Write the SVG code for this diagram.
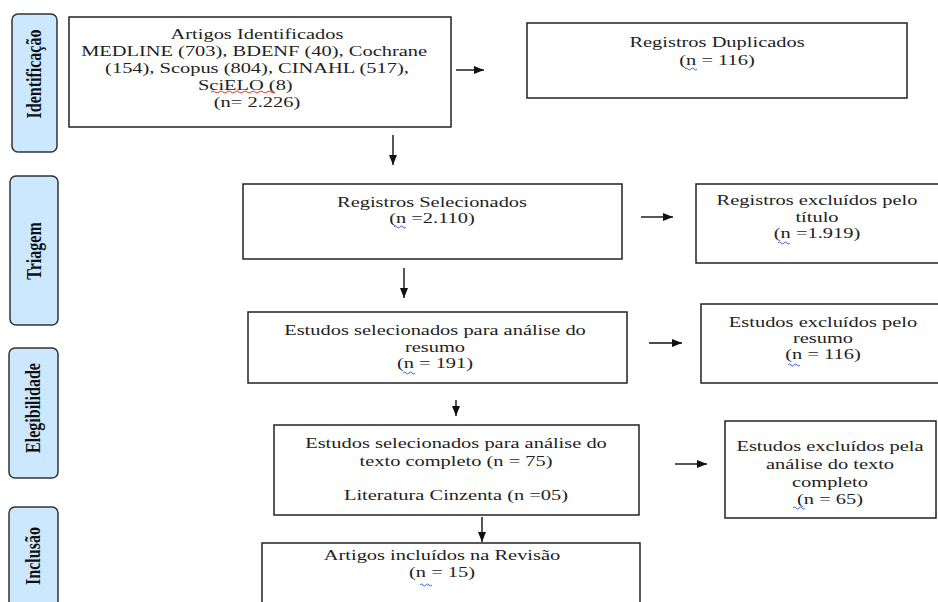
<svg xmlns="http://www.w3.org/2000/svg" width="938" height="602" viewBox="0 0 938 602">
<defs>
<style>
.bg{fill:#ffffff}
.box{fill:#ffffff;stroke:#222;stroke-width:1.5}
.side{fill:#cce8ff;stroke:#333;stroke-width:1.5}
.t{font-family:"Liberation Serif","Tinos","DejaVu Serif","Noto Serif",serif;font-size:14px;fill:#222;text-anchor:middle}
.st{font-family:"Liberation Serif","Tinos","DejaVu Serif","Noto Serif",serif;font-size:16px;font-weight:bold;fill:#111;text-anchor:middle}
.conn{stroke:#111;stroke-width:1.4;fill:none}
.sp{fill:none;stroke:#2a52d6;stroke-width:0.9}
.spr{fill:none;stroke:#e0201c;stroke-width:0.9}
</style>
<marker id="ah" markerWidth="10" markerHeight="8" refX="10" refY="4" orient="auto" markerUnits="userSpaceOnUse">
<path d="M0,0 L10,4 L0,8 z" fill="#111"/>
</marker>
</defs>
<rect class="bg" x="0" y="0" width="938" height="602"/>

<g id="side-identificacao">
<rect class="side" x="12" y="14" width="45" height="138" rx="6"/>
<text class="st" font-family="Liberation Serif, DejaVu Serif, serif" transform="translate(34,74) scale(1.35,1) rotate(-90)" x="0" y="5">Identificação</text>
</g>
<g id="side-triagem">
<rect class="side" x="10" y="176" width="48" height="149" rx="6"/>
<text class="st" font-family="Liberation Serif, DejaVu Serif, serif" transform="translate(34,251) scale(1.35,1) rotate(-90)" x="0" y="5">Triagem</text>
</g>
<g id="side-elegibilidade">
<rect class="side" x="9" y="348" width="49" height="130" rx="6"/>
<text class="st" font-family="Liberation Serif, DejaVu Serif, serif" transform="translate(33,408) scale(1.35,1) rotate(-90)" x="0" y="5">Elegibilidade</text>
</g>
<g id="side-inclusao">
<rect class="side" x="9" y="507" width="49" height="110" rx="6"/>
<text class="st" font-family="Liberation Serif, DejaVu Serif, serif" transform="translate(33,556) scale(1.35,1) rotate(-90)" x="0" y="5">Inclusão</text>
</g>

<g id="connectors">
<line class="conn" x1="456" y1="70" x2="484" y2="70" marker-end="url(#ah)"/>
<line class="conn" x1="393" y1="135" x2="393" y2="165" marker-end="url(#ah)"/>
<line class="conn" x1="641" y1="217" x2="673" y2="217" marker-end="url(#ah)"/>
<line class="conn" x1="404" y1="268" x2="404" y2="298" marker-end="url(#ah)"/>
<line class="conn" x1="649" y1="343" x2="682" y2="343" marker-end="url(#ah)"/>
<line class="conn" x1="456" y1="400" x2="456" y2="416" marker-end="url(#ah)"/>
<line class="conn" x1="675" y1="464" x2="707" y2="464" marker-end="url(#ah)"/>
<line class="conn" x1="482" y1="517" x2="482" y2="542" marker-end="url(#ah)"/>
</g>

<g id="n-identificados">
<rect class="box" x="69" y="17" width="382" height="110"/>
<g transform="translate(257,0) scale(1.46,1)">
<text class="t" font-family="Liberation Serif, DejaVu Serif, serif"><tspan x="0" y="39">Artigos Identificados</tspan><tspan x="-2" y="56">MEDLINE (703), BDENF (40), Cochrane</tspan><tspan x="0" y="73">(154), Scopus (804), CINAHL (517),</tspan><tspan x="-8" y="90">SciELO (8)</tspan><tspan x="0" y="107">(n= 2.226)</tspan></text>
</g>
<path class="spr" d="M211,92 q2,-2 4,0 t4,0 t4,0 t4,0 t4,0 t4,0 t4,0 t4,0 t4,0 t4,0 t4,0 t4,0 t4,0 t4,0 t4,0 t4,0"/>
</g>

<g id="n-duplicados">
<rect class="box" x="527" y="23" width="380" height="75"/>
<g transform="translate(717,0) scale(1.46,1)">
<text class="t" font-family="Liberation Serif, DejaVu Serif, serif"><tspan x="0" y="47">Registros Duplicados</tspan><tspan x="0" y="65">(n = 116)</tspan></text>
</g>
<path class="sp" d="M685,69 q1.5,-2 3,0 t3,0 t3,0 t3,0"/>
</g>

<g id="n-selecionados">
<rect class="box" x="243" y="184" width="379" height="75"/>
<g transform="translate(432,0) scale(1.46,1)">
<text class="t" font-family="Liberation Serif, DejaVu Serif, serif"><tspan x="0" y="207">Registros Selecionados</tspan><tspan x="0" y="223">(n =2.110)</tspan></text>
</g>
<path class="sp" d="M394,227 q1.5,-2 3,0 t3,0 t3,0 t3,0"/>
</g>

<g id="n-excl-titulo">
<rect class="box" x="696" y="184" width="245" height="79"/>
<g transform="translate(817,0) scale(1.46,1)">
<text class="t" font-family="Liberation Serif, DejaVu Serif, serif"><tspan x="0" y="205">Registros excluídos pelo</tspan><tspan x="0" y="222">título</tspan><tspan x="0" y="238">(n =1.919)</tspan></text>
</g>
<path class="sp" d="M778,243 q1.5,-2 3,0 t3,0 t3,0 t3,0"/>
</g>

<g id="n-resumo">
<rect class="box" x="248" y="312" width="379" height="71"/>
<g transform="translate(435,0) scale(1.46,1)">
<text class="t" font-family="Liberation Serif, DejaVu Serif, serif"><tspan x="0" y="335">Estudos selecionados para análise do</tspan><tspan x="0" y="352">resumo</tspan><tspan x="0" y="368">(n = 191)</tspan></text>
</g>
<path class="sp" d="M403,373 q1.5,-2 3,0 t3,0 t3,0 t3,0"/>
</g>

<g id="n-excl-resumo">
<rect class="box" x="701" y="304" width="245" height="79"/>
<g transform="translate(823,0) scale(1.46,1)">
<text class="t" font-family="Liberation Serif, DejaVu Serif, serif"><tspan x="0" y="327">Estudos excluídos pelo</tspan><tspan x="0" y="343">resumo</tspan><tspan x="0" y="359">(n = 116)</tspan></text>
</g>
<path class="sp" d="M788,365 q1.5,-2 3,0 t3,0 t3,0 t3,0"/>
</g>

<g id="n-texto-completo">
<rect class="box" x="274" y="425" width="365" height="90"/>
<g transform="translate(456,0) scale(1.46,1)">
<text class="t" font-family="Liberation Serif, DejaVu Serif, serif"><tspan x="0" y="448">Estudos selecionados para análise do</tspan><tspan x="0" y="466">texto completo (n = 75)</tspan><tspan x="0" y="500">Literatura Cinzenta (n =05)</tspan></text>
</g>
</g>

<g id="n-excl-texto">
<rect class="box" x="725" y="421" width="211" height="97"/>
<g transform="translate(830,0) scale(1.46,1)">
<text class="t" font-family="Liberation Serif, DejaVu Serif, serif"><tspan x="0" y="451">Estudos excluídos pela</tspan><tspan x="0" y="469">análise do texto</tspan><tspan x="0" y="487">completo</tspan><tspan x="0" y="504">(n = 65)</tspan></text>
</g>
<path class="sp" d="M793,508 q1.5,-2 3,0 t3,0 t3,0 t3,0"/>
</g>

<g id="n-incluidos">
<rect class="box" x="262" y="543" width="378" height="70"/>
<g transform="translate(442,0) scale(1.46,1)">
<text class="t" font-family="Liberation Serif, DejaVu Serif, serif"><tspan x="0" y="560">Artigos incluídos na Revisão</tspan><tspan x="0" y="577">(n = 15)</tspan></text>
</g>
<path class="sp" d="M420,585 q1.5,-2 3,0 t3,0 t3,0 t3,0"/>
</g>
</svg>
